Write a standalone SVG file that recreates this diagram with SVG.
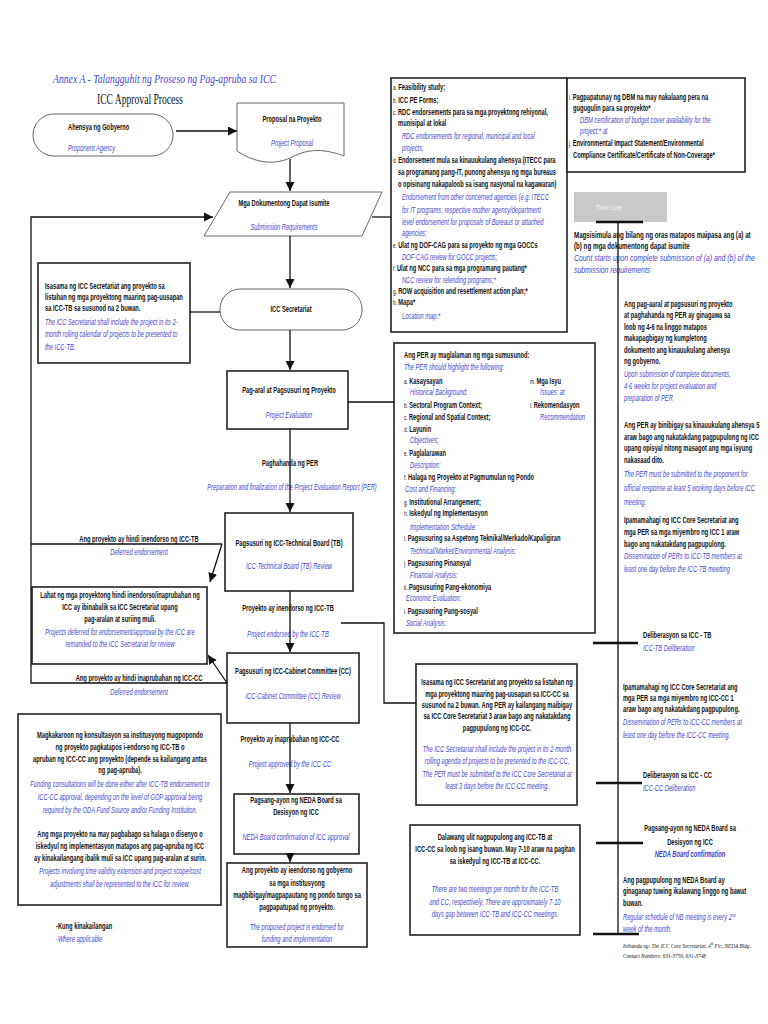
<svg xmlns="http://www.w3.org/2000/svg" width="768" height="1024" viewBox="0 0 768 1024">
<defs>
<style>
.b{font-family:"Liberation Sans",Arial,sans-serif;font-weight:bold;font-size:8.6px;fill:#111}
.i{font-family:"Liberation Sans",Arial,sans-serif;font-style:italic;font-size:8.6px;fill:#4646cc}
.bi{font-family:"Liberation Sans",Arial,sans-serif;font-style:italic;font-weight:bold;font-size:8.6px;fill:#3c3cd0}
.r{font-weight:normal;font-size:7px}
.m{text-anchor:middle}
.box{fill:#fff;stroke:#222;stroke-width:1.6}
.term{fill:#fff;stroke:#666;stroke-width:1}
.ln{fill:none;stroke:#111;stroke-width:1.3}
.tk{fill:none;stroke:#111;stroke-width:2.6}
.ser{font-family:"Liberation Serif","Times New Roman",serif}
</style>
<marker id="ah" markerUnits="userSpaceOnUse" markerWidth="10" markerHeight="10" refX="9" refY="4.5" orient="auto"><path d="M0,0 L9,4.5 L0,9 z" fill="#111"/></marker>
</defs>
<rect width="768" height="1024" fill="#fff"/>

<g id="title">
<g transform="translate(53 0) scale(.745 1)"><text class="ser" x="0" y="83" font-size="13" font-style="italic" fill="#4848d0">Annex A -  Talangguhit ng Proseso ng Pag-apruba sa ICC</text></g>
<g transform="translate(97 0) scale(.64 1)"><text class="ser" x="0" y="104" font-size="15" fill="#111">ICC Approval Process</text></g>
</g>

<g id="n-ahensya">
<rect class="term" x="33" y="114" width="140" height="42" rx="21"/>
<g transform="translate(68 0) scale(.67 1)"><text class="b" x="0" y="130">Ahensya ng Gobyerno</text><text class="i" x="0" y="151">Proponent Agency</text></g>
</g>

<g id="n-proposal">
<path class="term" d="M237,103 H344 V156 C320,147 305,150 290,158 C272,166 254,162 237,151 Z"/>
<g transform="translate(292 0) scale(.67 1)"><text class="b m" x="0" y="122">Proposal na Proyekto</text><text class="i m" x="0" y="146">Project Proposal</text></g>
</g>

<g id="n-dokumento">
<polygon class="term" points="230,192 382,192 362,236 204,236"/>
<g transform="translate(284 0) scale(.67 1)"><text class="b m" x="0" y="206">Mga Dokumentong Dapat Isumite</text><text class="i m" x="0" y="230">Submission Requirements</text></g>
</g>

<g id="n-requirements">
<rect class="box" x="391" y="78" width="176" height="254"/>
<g transform="translate(393 0) scale(.67 1)">
<text class="b" x="0" y="90"><tspan class="r">a. </tspan>Feasibility study;</text>
<text class="b" x="0" y="103"><tspan class="r">b. </tspan>ICC PE Forms;</text>
<text class="b" x="0" y="115"><tspan class="r">c. </tspan>RDC endorsements para sa mga proyektong rehiyonal,</text>
<text class="b" x="7.5" y="126">munisipal at lokal</text>
<text class="i" x="13.4" y="139">RDC endorsements for regional, municipal and local</text>
<text class="i" x="13.4" y="151">projects;</text>
<text class="b" x="0" y="163"><tspan class="r">d. </tspan>Endorsement mula sa kinauukulang ahensya (ITECC para</text>
<text class="b" x="7.5" y="175">sa programang pang-IT, punong ahensya ng mga bureaus</text>
<text class="b" x="7.5" y="187">o opisinang nakapaloob sa isang nasyonal na kagawaran)</text>
<text class="i" x="13.4" y="200">Endorsement from other concerned agencies (e.g. ITECC</text>
<text class="i" x="13.4" y="213">for IT programs, respective mother agency/department</text>
<text class="i" x="13.4" y="225">level endorsement for proposals of Bureaus or attached</text>
<text class="i" x="13.4" y="236">agencies;</text>
<text class="b" x="0" y="248"><tspan class="r">e. </tspan>Ulat ng DOF-CAG para sa proyekto ng mga GOCCs</text>
<text class="i" x="13.4" y="260">DOF-CAG review for GOCC projects;</text>
<text class="b" x="0" y="271"><tspan class="r">f. </tspan>Ulat ng NCC para sa mga programang pautang*</text>
<text class="i" x="13.4" y="283">NCC review for relending programs;*</text>
<text class="b" x="0" y="294"><tspan class="r">g. </tspan>ROW acquisition and resettlement action plan;*</text>
<text class="b" x="0" y="305"><tspan class="r">h. </tspan>Mapa*</text>
<text class="i" x="13.4" y="319">Location map:*</text>
</g>
<rect class="box" x="567" y="78" width="178" height="94"/>
<g transform="translate(569 0) scale(.67 1)">
<text class="b" x="0" y="100"><tspan class="r">i. </tspan>Pagpapatunay ng DBM na may nakalaang pera na</text>
<text class="b" x="6" y="111">gugugulin para sa proyekto*</text>
<text class="i" x="16.4" y="123">DBM certification of budget cover availability for the</text>
<text class="i" x="16.4" y="134">project;* at</text>
<text class="b" x="0" y="146"><tspan class="r">j. </tspan>Environmental Impact Statement/Environmental</text>
<text class="b" x="6" y="158">Compliance Certificate/Certificate of Non-Coverage*</text>
</g>
</g>

<g id="n-listahan-tb">
<rect class="box" x="38" y="263" width="152" height="100"/>
<g transform="translate(45 0) scale(.67 1)">
<text class="b" x="0" y="289">Isasama ng ICC Secretariat ang proyekto sa</text>
<text class="b" x="0" y="300">listahan ng mga proyektong maaring pag-uusapan</text>
<text class="b" x="0" y="311">sa ICC-TB sa susunod na 2 buwan.</text>
<text class="i" x="0" y="325">The ICC Secretariat shall include the project in its 2-</text>
<text class="i" x="0" y="337">month rolling calendar of projects to be presented to</text>
<text class="i" x="0" y="350">the ICC-TB.</text>
</g>
</g>

<g id="n-secretariat">
<rect class="term" x="220" y="289" width="142" height="41" rx="20"/>
<g transform="translate(291 0) scale(.67 1)"><text class="b m" x="0" y="312">ICC Secretariat</text></g>
</g>

<g id="n-evaluation">
<rect class="box" x="227" y="371" width="121" height="58"/>
<g transform="translate(289 0) scale(.67 1)"><text class="b m" x="0" y="393">Pag-aral at Pagsusuri ng Proyekto</text><text class="i m" x="0" y="418">Project Evaluation</text></g>
</g>

<g id="n-per">
<rect class="box" x="394" y="343" width="201" height="290"/>
<g transform="translate(404 0) scale(.67 1)">
<text class="b" x="0" y="358">Ang PER ay maglalaman ng mga sumusunod:</text>
<text class="i" x="0" y="370">The PER should highlight the following:</text>
<text class="b" x="0" y="384"><tspan class="r">a. </tspan>Kasaysayan</text>
<text class="i" x="9" y="395">Historical Background:</text>
<text class="b" x="0" y="408"><tspan class="r">b. </tspan>Sectoral Program Context;</text>
<text class="b" x="0" y="420"><tspan class="r">c. </tspan>Regional and Spatial Context;</text>
<text class="b" x="0" y="432"><tspan class="r">d. </tspan>Layunin</text>
<text class="i" x="9" y="443">Objectives;</text>
<text class="b" x="0" y="456"><tspan class="r">e. </tspan>Paglalarawan</text>
<text class="i" x="9" y="468">Description:</text>
<text class="b" x="0" y="480"><tspan class="r">f. </tspan>Halaga ng Proyekto at Pagmumulan ng Pondo</text>
<text class="i" x="1.5" y="492">Cost and Financing:</text>
<text class="b" x="0" y="505"><tspan class="r">g. </tspan>Institutional Arrangement;</text>
<text class="b" x="0" y="516"><tspan class="r">h. </tspan>Iskedyul ng Implementasyon</text>
<text class="i" x="9" y="530">Implementation Schedule:</text>
<text class="b" x="0" y="541"><tspan class="r">i. </tspan>Pagsusuring sa Aspetong Teknikal/Merkado/Kapaligiran</text>
<text class="i" x="9" y="554">Technical/Market/Environmental Analysis:</text>
<text class="b" x="0" y="566"><tspan class="r">j. </tspan>Pagsusuring Pinansyal</text>
<text class="i" x="9" y="578">Financial Analysis:</text>
<text class="b" x="0" y="590"><tspan class="r">k. </tspan> Pagsusuring Pang-ekonomiya</text>
<text class="i" x="3" y="601">Economic Evaluation:</text>
<text class="b" x="0" y="614"><tspan class="r">l. </tspan>Pagsusuring Pang-sosyal</text>
<text class="i" x="3" y="626">Social Analysis:</text>
</g>
<g transform="translate(530 0) scale(.67 1)">
<text class="b" x="0" y="384"><tspan class="r">m. </tspan>Mga Isyu</text>
<text class="i" x="15" y="395">Issues: at</text>
<text class="b" x="0" y="408"><tspan class="r">l.  </tspan>Rekomendasyon</text>
<text class="i" x="15" y="420">Recommendation</text>
</g>
</g>

<g id="lbl-per">
<g transform="translate(290 0) scale(.67 1)"><text class="b m" x="0" y="466">Paghahanda ng PER</text></g>
<g transform="translate(292 0) scale(.67 1)"><text class="i m" x="0" y="490">Preparation and finalization of the Project Evaluation Report (PER)</text></g>
</g>

<g id="n-tb">
<rect class="box" x="225" y="513" width="128" height="78"/>
<g transform="translate(289 0) scale(.67 1)"><text class="b m" x="0" y="546">Pagsusuri ng ICC-Technical Board (TB)</text><text class="i m" x="0" y="569">ICC-Technical Board (TB) Review</text></g>
</g>

<g id="lbl-deferred-tb">
<g transform="translate(139 0) scale(.67 1)"><text class="b m" x="0" y="542">Ang proyekto ay hindi inendorso ng ICC-TB</text><text class="i m" x="0" y="555">Deferred endorsement</text></g>
</g>

<g id="n-returned">
<rect class="box" x="32" y="587" width="175" height="77"/>
<g transform="translate(120 0) scale(.67 1)">
<text class="b m" x="0" y="598">Lahat ng mga proyektong hindi inendorso/inaprubahan ng</text>
<text class="b m" x="0" y="610">ICC ay ibinabalik sa ICC Secretariat upang</text>
<text class="b m" x="0" y="622">pag-aralan at suriing muli.</text>
<text class="i m" x="0" y="635">Projects deferred for endorsement/approval by the ICC are</text>
<text class="i m" x="0" y="647">remanded to the ICC Secretariat for review</text>
</g>
</g>

<g id="lbl-endorsed">
<g transform="translate(288 0) scale(.67 1)"><text class="b m" x="0" y="611">Proyekto ay inendorso ng ICC-TB</text><text class="i m" x="0" y="637">Project endorsed by the ICC-TB</text></g>
</g>

<g id="n-cc">
<rect class="box" x="227" y="653" width="132" height="70"/>
<g transform="translate(293 0) scale(.67 1)"><text class="b m" x="0" y="674">Pagsusuri ng ICC-Cabinet Committee (CC)</text><text class="i m" x="0" y="699">ICC-Cabinet Committee (CC) Review</text></g>
</g>

<g id="lbl-deferred-cc">
<g transform="translate(139 0) scale(.67 1)"><text class="b m" x="0" y="681">Ang proyekto ay hindi inaprubahan ng ICC-CC</text><text class="i m" x="0" y="695">Deferred endorsement</text></g>
</g>

<g id="n-listahan-cc">
<rect class="box" x="416" y="664" width="161" height="141"/>
<g transform="translate(497 0) scale(.67 1)">
<text class="b m" x="0" y="685">Isasama ng ICC Secretariat ang proyekto sa listahan ng</text>
<text class="b m" x="0" y="697">mga proyektong maaring pag-uusapan sa ICC-CC sa</text>
<text class="b m" x="0" y="708">susunod na 2 buwan. Ang PER ay kailangang maibigay</text>
<text class="b m" x="0" y="719">sa ICC Core Secretariat 3 araw bago ang nakatakdang</text>
<text class="b m" x="0" y="731">pagpupulong ng ICC-CC.</text>
<text class="i m" x="0" y="752">The ICC Secretariat shall include the project in its 2-month</text>
<text class="i m" x="0" y="764">rolling agenda of projects to be presented to the ICC-CC.</text>
<text class="i m" x="0" y="777">The PER must be submitted to the ICC Core Secretariat at</text>
<text class="i m" x="0" y="789">least 3 days before the ICC-CC meeting.</text>
</g>
</g>

<g id="lbl-approved">
<g transform="translate(290 0) scale(.67 1)"><text class="b m" x="0" y="742">Proyekto ay inaprubahan ng ICC-CC</text><text class="i m" x="0" y="767">Project approved by the ICC-CC</text></g>
</g>

<g id="n-funding">
<rect class="box" x="18" y="714" width="203" height="191"/>
<g transform="translate(120 0) scale(.67 1)">
<text class="b m" x="0" y="738">Magkakaroon ng konsultasyon sa institusyong magpopondo</text>
<text class="b m" x="0" y="750">ng proyekto pagkatapos i-endorso ng ICC-TB o</text>
<text class="b m" x="0" y="762">apruban ng ICC-CC ang proyekto (depende sa kailangang antas</text>
<text class="b m" x="0" y="773">ng pag-apruba).</text>
<text class="i m" x="0" y="787">Funding consultations will be done either after ICC-TB endorsement or</text>
<text class="i m" x="0" y="800">ICC-CC approval, depending on the level of GOP approval being</text>
<text class="i m" x="0" y="813">required by the ODA Fund Source and/or Funding Institution.</text>
<text class="b m" x="0" y="837">Ang mga proyekto na may pagbabago sa halaga o disenyo o</text>
<text class="b m" x="0" y="849">iskedyul ng implementasyon matapos ang pag-apruba ng ICC</text>
<text class="b m" x="0" y="861">ay kinakailangang ibalik muli sa ICC upang pag-aralan at surin.</text>
<text class="i m" x="0" y="874">Projects involving time validity extension and project scope/cost</text>
<text class="i m" x="0" y="887">adjustments shall be represented to the ICC for review.</text>
</g>
</g>

<g id="n-neda">
<rect class="box" x="234" y="794" width="125" height="60"/>
<g transform="translate(296 0) scale(.67 1)"><text class="b m" x="0" y="803">Pagsang-ayon ng NEDA Board sa</text><text class="b m" x="0" y="815">Desisyon ng ICC</text><text class="i m" x="0" y="840">NEDA Board confirmation of ICC approval</text></g>
</g>

<g id="n-meetings">
<rect class="box" x="410" y="825" width="170" height="110"/>
<g transform="translate(495 0) scale(.67 1)">
<text class="b m" x="0" y="840">Dalawang ulit nagpupulong ang ICC-TB at</text>
<text class="b m" x="0" y="852">ICC-CC sa loob ng isang buwan. May 7-10 araw na pagitan</text>
<text class="b m" x="0" y="864">sa iskedyul ng ICC-TB at ICC-CC.</text>
<text class="i m" x="0" y="892">There are two meetings per month for the ICC-TB</text>
<text class="i m" x="0" y="905">and CC, respectively.  There are approximately 7-10</text>
<text class="i m" x="0" y="917">days gap between ICC-TB and ICC-CC meetings.</text>
</g>
</g>

<g id="n-final">
<rect class="box" x="227" y="863" width="140" height="84"/>
<g transform="translate(297 0) scale(.67 1)">
<text class="b m" x="0" y="873">Ang proyekto ay ieendorso ng gobyerno</text>
<text class="b m" x="0" y="886">sa mga institusyong</text>
<text class="b m" x="0" y="898">magbibigay/magpapautang ng pondo tungo sa</text>
<text class="b m" x="0" y="910">pagpapatupad ng proyekto.</text>
<text class="i m" x="0" y="930">The proposed project is endorsed for</text>
<text class="i m" x="0" y="942">funding and implementation</text>
</g>
</g>

<g id="legend">
<g transform="translate(56 0) scale(.67 1)"><text class="b" x="0" y="929">-Kung kinakailangan</text><text class="i" x="0" y="942">-Where applicable</text></g>
</g>

<g id="timeline">
<rect x="574" y="192" width="93" height="30" fill="#c9c9c9"/>
<g transform="translate(596 0) scale(.8 1)"><text x="0" y="210" font-family="Liberation Sans, Arial, sans-serif" font-size="7.5" fill="#f2f2f2">Time Line</text></g>
<g transform="translate(574 0) scale(.72 1)">
<text class="b" x="0" y="238">Magsisimula ang bilang ng oras matapos maipasa ang (a) at</text>
<text class="b" x="0" y="249">(b) ng mga dokumentong dapat isumite</text>
</g>
<g transform="translate(574 0) scale(.8 1)">
<text class="i" x="0" y="261">Count starts upon complete submission of (a) and (b) of the</text>
<text class="i" x="0" y="273">submission requirements</text>
</g>
<g transform="translate(624 0) scale(.67 1)">
<text class="b" x="0" y="307">Ang pag-aaral at pagsusuri ng proyekto</text>
<text class="b" x="0" y="318">at paghahanda ng PER ay ginagawa sa</text>
<text class="b" x="0" y="330">loob ng 4-6 na linggo matapos</text>
<text class="b" x="0" y="341">makapagbigay ng kumpletong</text>
<text class="b" x="0" y="353">dokumento ang kinauukulang ahensya</text>
<text class="b" x="0" y="364">ng gobyerno.</text>
<text class="i" x="0" y="377">Upon submission of complete documents,</text>
<text class="i" x="0" y="389">4-6 weeks for project evaluation and</text>
<text class="i" x="0" y="401">preparation of PER</text>
<text class="b" x="0" y="428">Ang PER ay binibigay sa kinauukulang ahensya 5</text>
<text class="b" x="0" y="440">araw bago ang nakatakdang pagpupulong ng ICC</text>
<text class="b" x="0" y="451">upang opisyal nitong masagot ang mga isyung</text>
<text class="b" x="0" y="463">nakasaad dito.</text>
<text class="i" x="0" y="477">The PER must be submitted to the proponent for</text>
<text class="i" x="0" y="491">official response at least 5 working days before ICC</text>
<text class="i" x="0" y="505">meeting.</text>
<text class="b" x="0" y="523">Ipamamahagi ng ICC Core Secretariat ang</text>
<text class="b" x="0" y="535">mga PER sa mga miyembro ng ICC 1 araw</text>
<text class="b" x="0" y="547">bago ang nakatakdang pagpupulong.</text>
<text class="i" x="0" y="559">Dissemination of PERs to ICC-TB members at</text>
<text class="i" x="0" y="572">least one day before the ICC-TB meetting</text>
</g>
<g transform="translate(643 0) scale(.67 1)"><text class="b" x="0" y="638">Deliberasyon sa ICC - TB</text><text class="i" x="0" y="651">ICC-TB Deliberation</text></g>
<g transform="translate(623 0) scale(.67 1)">
<text class="b" x="0" y="690">Ipamamahagi ng ICC Core Secretariat ang</text>
<text class="b" x="0" y="701">mga PER sa mga miyembro ng ICC-CC 1</text>
<text class="b" x="0" y="712">araw bago ang nakatakdang pagpupulong.</text>
<text class="i" x="0" y="725">Dissemination of PERs to ICC-CC members at</text>
<text class="i" x="0" y="738">least one day before the ICC-CC meeting.</text>
</g>
<g transform="translate(643 0) scale(.67 1)"><text class="b" x="0" y="778">Deliberasyon sa ICC - CC</text><text class="i" x="0" y="791">ICC-CC Deliberation</text></g>
<g transform="translate(690 0) scale(.67 1)"><text class="b m" x="0" y="831">Pagsang-ayon ng NEDA Board sa</text><text class="b m" x="0" y="845">Desisyon ng ICC</text><text class="bi m" x="0" y="857">NEDA Board confirmation</text></g>
<g transform="translate(623 0) scale(.67 1)">
<text class="b" x="0" y="883">Ang pagpupulong ng NEDA Board ay</text>
<text class="b" x="0" y="894">ginaganap tuwing ikalawang linggo ng bawat</text>
<text class="b" x="0" y="906">buwan.</text>
<text class="i" x="0" y="920">Regular schedule of NB meeting is every 2<tspan font-size="5" dy="-3">nd</tspan></text>
<text class="i" x="0" y="932">week of the month.</text>
</g>
<g transform="translate(623 0) scale(.75 1)">
<text class="ser" x="0" y="948" font-size="7" font-style="italic" fill="#111">Inihanda ng: The ICC Core Secretariat, 4<tspan font-size="4.5" dy="-3">th</tspan><tspan dy="3"> Flr., NEDA Bldg.</tspan></text>
<text class="ser" x="0" y="958" font-size="7" font-style="italic" fill="#111">Contact Numbers: 631-3759, 631-3748</text>
</g>
</g>

<g id="connectors">
<line class="ln" x1="176" y1="131" x2="237" y2="131" marker-end="url(#ah)"/>
<line class="ln" x1="290" y1="159" x2="290" y2="191" marker-end="url(#ah)"/>
<line class="ln" x1="290" y1="236" x2="290" y2="288" marker-end="url(#ah)"/>
<line class="ln" x1="290" y1="330" x2="290" y2="370" marker-end="url(#ah)"/>
<line class="ln" x1="290" y1="429" x2="290" y2="512" marker-end="url(#ah)"/>
<line class="ln" x1="290" y1="591" x2="290" y2="652" marker-end="url(#ah)"/>
<line class="ln" x1="290" y1="723" x2="290" y2="793" marker-end="url(#ah)"/>
<line class="ln" x1="290" y1="854" x2="290" y2="862" marker-end="url(#ah)"/>
<polyline class="ln" points="227,683 31,683 31,217 213,217" marker-end="url(#ah)"/>
<line class="ln" x1="372" y1="217" x2="391" y2="217"/>
<line class="ln" x1="190" y1="312" x2="220" y2="312"/>
<line class="ln" x1="348" y1="402" x2="394" y2="402"/>
<line class="ln" x1="31" y1="544" x2="222" y2="544"/>
<line class="ln" x1="222" y1="544" x2="210" y2="582" marker-end="url(#ah)"/>
<line class="ln" x1="227" y1="683" x2="208" y2="655" marker-end="url(#ah)"/>
<polyline class="ln" points="341,623 384,623 384,703 416,703"/>
<line class="ln" x1="618" y1="222" x2="618" y2="934" stroke-width="1.6"/>
<line class="tk" x1="596" y1="222" x2="643" y2="222"/>
<line class="tk" x1="593" y1="643" x2="638" y2="643"/>
<line class="tk" x1="596" y1="783" x2="642" y2="783"/>
<line class="tk" x1="596" y1="843" x2="643" y2="843"/>
<line class="tk" x1="593" y1="934" x2="639" y2="934"/>
</g>
</svg>
